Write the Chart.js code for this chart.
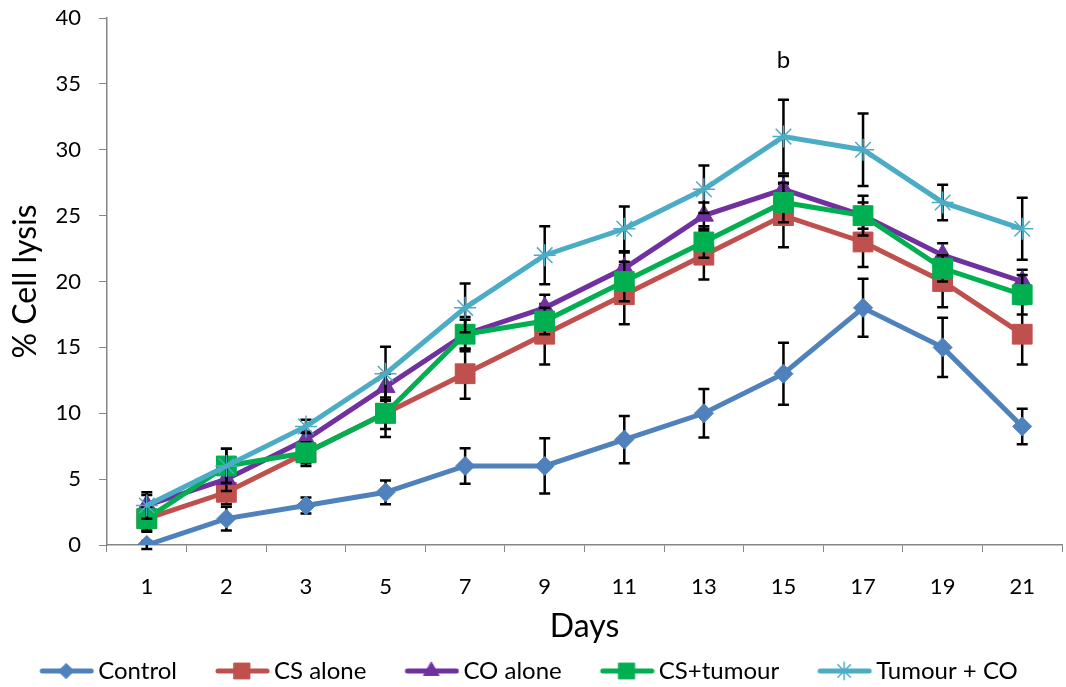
<!DOCTYPE html>
<html>
<head>
<meta charset="utf-8">
<script src="https://cdn.jsdelivr.net/npm/chart.js@4.4.1/dist/chart.umd.min.js"></script>
<style>
  html, body { margin: 0; padding: 0; background: #fff; overflow: hidden; }
  #wrap { width: 1066px; height: 687px; position: relative; }
</style>
</head>
<body>
<div id="wrap"><canvas id="lysisChart"></canvas></div>
<script>
// data
const days = ["1", "2", "3", "5", "7", "9", "11", "13", "15", "17", "19", "21"];
const control = [0, 2, 3, 4, 6, 6, 8, 10, 13, 18, 15, 9];
const csAlone = [2, 4, 7, 10, 13, 16, 19, 22, 25, 23, 20, 16];
const coAlone = [3, 5, 8, 12, 16, 18, 21, 25, 27, 25, 22, 20];
const csTumour = [2, 6, 7, 10, 16, 17, 20, 23, 26, 25, 21, 19];
const tumourCo = [3, 6, 9, 13, 18, 22, 24, 27, 31, 30, 26, 24];

// +/- error
const controlErr = [0.3, 0.9, 0.6, 0.9, 1.35, 2.1, 1.8, 1.85, 2.35, 2.2, 2.25, 1.35];
const csAloneErr = [1.0, 0.9, 1.0, 1.8, 1.9, 2.3, 2.25, 1.85, 2.4, 1.9, 1.95, 2.3];
const coAloneErr = [0.8, 0.9, 0.6, 1.0, 1.3, 1.0, 1.2, 1.0, 1.0, 1.0, 0.9, 0.9];
const csTumourErr = [0.9, 1.3, 0.8, 1.2, 1.1, 1.0, 1.5, 1.2, 1.5, 1.5, 1.0, 1.5];
const tumourCoErr = [1.0, 1.3, 0.5, 2.05, 1.85, 2.2, 1.7, 1.8, 2.8, 2.75, 1.35, 2.35];

const yTicks = [0, 5, 10, 15, 20, 25, 30, 35, 40];
const note = { day: "15", value: 36.8, text: "b" };

const FONT = "Lato, 'Open Sans', sans-serif";

const series = [
  { label: "Control", data: control, err: controlErr, color: "#4F81BD", style: "rectRot", r: 9.5 },
  { label: "CS alone", data: csAlone, err: csAloneErr, color: "#C0504D", style: "rect", r: 14 },
  { label: "CO alone", data: coAlone, err: coAloneErr, color: "#7030A0", style: "triangle", r: 11 },
  { label: "CS+tumour", data: csTumour, err: csTumourErr, color: "#00B050", style: "rect", r: 14 },
  { label: "Tumour + CO", data: tumourCo, err: tumourCoErr, color: "#4BACC6", style: "star", r: 11 },
];

// legend swatch: line with marker, blank margin on the left to space items
function swatch(s) {
  const c = document.createElement("canvas");
  c.width = 92; c.height = 26;
  const g = c.getContext("2d");
  g.strokeStyle = s.color; g.lineWidth = 5; g.lineCap = "round";
  g.beginPath(); g.moveTo(40, 13); g.lineTo(89, 13); g.stroke();
  g.fillStyle = s.color;
  g.strokeStyle = s.color;
  g.lineWidth = s.style === "star" ? 1.5 : 1;
  Chart.helpers.drawPoint(g, { pointStyle: s.style, radius: s.r * 0.8, borderWidth: g.lineWidth }, 64, 13);
  return c;
}

// error bars under each series' own line
const errorBars = {
  id: "errorBars",
  afterLayout(chart) {
    // nudge the legend left, the swatches carry blank space on their left
    chart.legend.left -= 17;
    chart.legend.right -= 17;
  },
  beforeDatasetDraw(chart, args) {
    const ds = chart.data.datasets[args.index];
    if (!ds.err) return;
    const x = chart.scales.x, y = chart.scales.y, ctx = chart.ctx;
    ctx.save();
    ctx.strokeStyle = "#000";
    ctx.lineWidth = 2.5;
    ds.data.forEach((v, i) => {
      const px = x.getPixelForValue(i);
      const top = y.getPixelForValue(v + ds.err[i]);
      const bot = y.getPixelForValue(v - ds.err[i]);
      ctx.beginPath();
      ctx.moveTo(px, top); ctx.lineTo(px, bot);
      ctx.moveTo(px - 5.5, top); ctx.lineTo(px + 5.5, top);
      ctx.moveTo(px - 5.5, bot); ctx.lineTo(px + 5.5, bot);
      ctx.stroke();
    });
    ctx.restore();
  },
  afterDatasetsDraw(chart) {
    const x = chart.scales.x, y = chart.scales.y, ctx = chart.ctx;
    ctx.save();
    ctx.fillStyle = "#000";
    ctx.font = "24px " + FONT;
    ctx.textAlign = "center";
    ctx.textBaseline = "middle";
    ctx.fillText(note.text, x.getPixelForValue(days.indexOf(note.day)), y.getPixelForValue(note.value));
    ctx.restore();
  },
};

const datasets = series.map((s, i) => ({
  label: s.label,
  data: s.data,
  err: s.err,
  borderColor: s.color,
  backgroundColor: s.color,
  borderWidth: 5,
  pointStyle: s.style,
  pointRadius: s.r,
  pointHoverRadius: s.r,
  pointBorderWidth: s.style === "star" ? 1.5 : 1,
  pointBorderColor: s.color,
  pointBackgroundColor: s.color,
  tension: 0,
  order: series.length - i,
  legendImg: swatch(s),
}));

new Chart(document.getElementById("lysisChart"), {
  type: "line",
  data: { labels: days, datasets: datasets },
  options: {
    responsive: true,
    maintainAspectRatio: false,
    animation: false,
    layout: { autoPadding: false, padding: { left: 0, right: 4, top: 18, bottom: -6 } },
    plugins: {
      tooltip: { enabled: false },
      legend: {
        position: "bottom",
        labels: {
          usePointStyle: true,
          pointStyleWidth: 76,
          padding: 9,
          color: "#000",
          font: { family: FONT, size: 24, lineHeight: 1 },
          sort: (a, b) => a.datasetIndex - b.datasetIndex,
          generateLabels(chart) {
            return chart.data.datasets.map((ds, i) => ({
              text: ds.label,
              pointStyle: ds.legendImg,
              fillStyle: ds.borderColor,
              strokeStyle: ds.borderColor,
              lineWidth: 0,
              hidden: false,
              datasetIndex: i,
            }));
          },
        },
      },
    },
    scales: {
      x: {
        offset: true,
        afterFit(scale) {
          scale.height = 105;
          scale.paddingLeft = 0;
          scale.paddingRight = 0;
        },
        grid: { offset: true, drawOnChartArea: false, color: "#868686", tickLength: 7 },
        border: { color: "#868686", width: 1.5 },
        ticks: { color: "#000", font: { family: FONT, size: 22 }, padding: 22 },
        title: { display: true, text: "Days", color: "#000", font: { family: FONT, size: 32, lineHeight: 1 }, padding: { top: 0, bottom: 7 } },
      },
      y: {
        min: 0,
        max: 40,
        afterBuildTicks(scale) { scale.ticks = yTicks.map(v => ({ value: v })); },
        afterFit(scale) {
          scale.width = 107;
          scale.paddingTop = 0;
          scale.paddingBottom = 0;
        },
        grid: { drawOnChartArea: false, color: "#868686", tickLength: 8 },
        border: { color: "#868686", width: 1.5 },
        ticks: { color: "#000", font: { family: FONT, size: 22 }, padding: 18 },
        title: { display: true, text: "% Cell lysis", color: "#000", font: { family: FONT, size: 32, lineHeight: 1 }, padding: { top: 10, bottom: 0 } },
      },
    },
  },
  plugins: [errorBars],
});
</script>
</body>
</html>
